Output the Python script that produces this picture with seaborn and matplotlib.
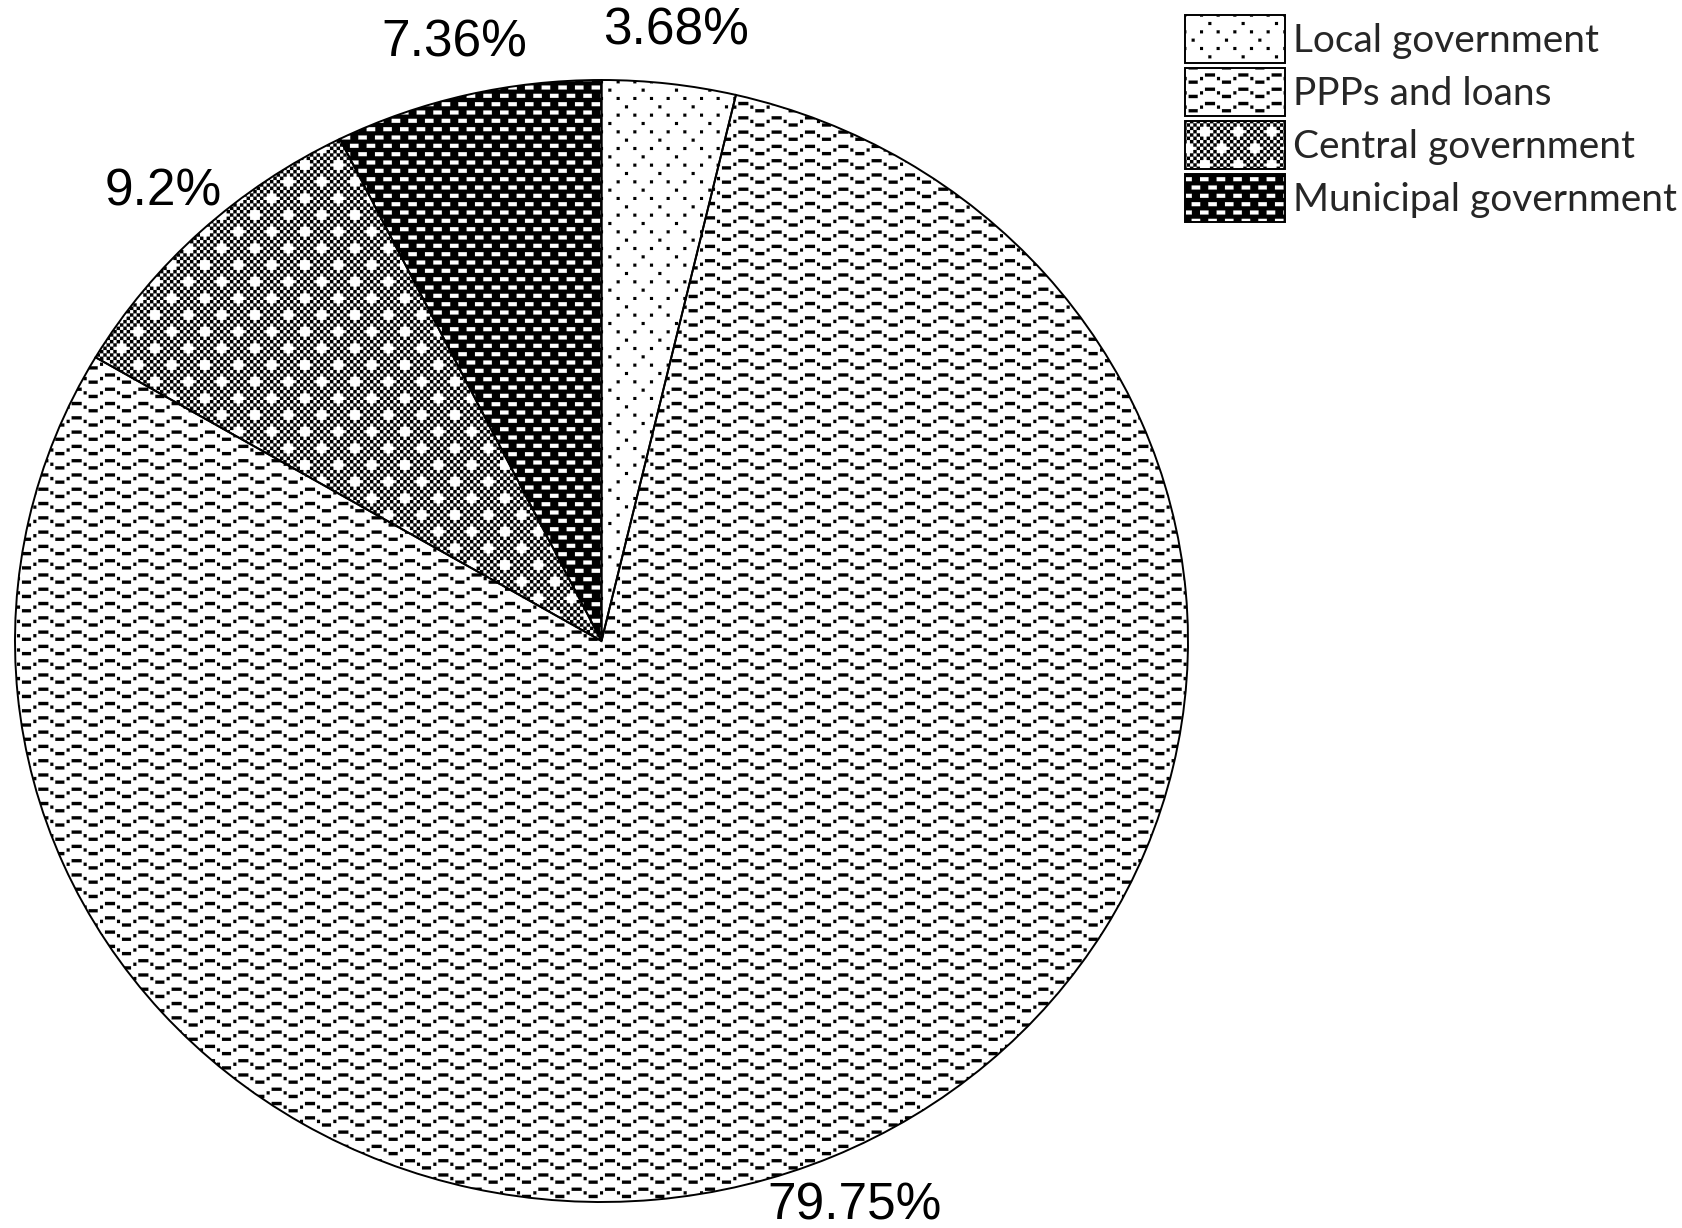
import numpy as np
import matplotlib
matplotlib.use("Agg")
import matplotlib.pyplot as plt
import matplotlib.hatch as mhatch
import matplotlib.patches as mpatches
from matplotlib.path import Path
import seaborn as sns

# ---- data -------------------------------------------------------------
categories = ["Local government", "PPPs and loans", "Central government", "Municipal government"]
shares = [3.68, 79.75, 9.2, 7.36]

# ---- fill styles (face colour, hatch colour, hatch symbol) -------------
face_colors = ["white", "white", "white", "black"]
hatch_colors = ["black", "black", "black", "white"]
hatch_symbols = [".", "o", "x", "*"]

# ---- custom tiling hatch patterns ---------------------------------------
TILE = 100.0  # hatch tile size in pixels (one inch at 100 dpi)


def _wrapped_rects(rects):
    """Closed rectangles in unit-tile coordinates, wrapped across tile edges."""
    polys = []
    for x, y, w, h in rects:
        x %= TILE
        y %= TILE
        for dx in (0.0, -TILE):
            for dy in (0.0, -TILE):
                if dx and x + w <= TILE:
                    continue
                if dy and y + h <= TILE:
                    continue
                x0, y0 = x + dx, y + dy
                polys.append(np.array([[x0, y0], [x0 + w, y0], [x0 + w, y0 + h], [x0, y0 + h]]) / TILE)
    return polys


class _TilePattern(mhatch.HatchPatternBase):
    symbol = ""
    polygons = []

    def __init__(self, hatch, density):
        self.active = self.symbol in (hatch or "")
        self.num_vertices = sum(len(p) + 1 for p in self.polygons) if self.active else 0

    def set_vertices_and_codes(self, vertices, codes):
        cur = 0
        for p in self.polygons:
            n = len(p)
            vertices[cur:cur + n] = p
            vertices[cur + n] = p[0]
            codes[cur] = Path.MOVETO
            codes[cur + 1:cur + n] = Path.LINETO
            codes[cur + n] = Path.CLOSEPOLY
            cur += n + 1


def _dots():
    rects, pitch, row = [], TILE / 6, TILE / 12
    for k in range(12):
        y = k * row
        if k % 2 == 0:
            xs = [j * pitch for j in range(6)]
        else:
            off = pitch / 2 + pitch * ((k // 2) % 2)
            xs = [off + 2 * pitch * j for j in range(3)]
        rects += [(x, y, 3.0, 3.0) for x in xs]
    return _wrapped_rects(rects)


def _waves():
    rects, period, row, t = [], TILE / 3, TILE / 7, 3.2
    pieces = [(0.0, 3.0, 0.0), (5.0, 10.0, 3.6), (17.0, 3.0, 0.0), (22.0, 9.0, -3.6)]
    for k in range(7):
        c = k * row + row / 2
        for j in range(3):
            for x0, w, dy in pieces:
                rects.append((j * period + x0, c + dy - t / 2, w, t))
    return _wrapped_rects(rects)


def _checker():
    n = 30
    s = TILE / n
    holes = set()
    for r in range(6):
        for k in range(3):
            ci, cj = 10 * k + 5 * (r % 2) + 1, 5 * r
            for di, dj in ((1, 0), (-1, 0), (0, 1), (0, -1)):
                holes.add(((ci + di) % n, (cj + dj) % n))
    rects = [(i * s, j * s, s, s) for i in range(n) for j in range(n)
             if (i + j) % 2 == 0 and (i, j) not in holes]
    return _wrapped_rects(rects)


def _bricks():
    rects, pitch, row = [], TILE / 6, TILE / 12
    for k in range(12):
        for j in range(6):
            rects.append((j * pitch + (pitch / 2) * (k % 2), k * row + (row - 4.0) / 2, 8.5, 4.0))
    return _wrapped_rects(rects)


def _make(symbol, polys):
    return type("Pattern_" + str(ord(symbol)), (_TilePattern,), {"symbol": symbol, "polygons": polys})


mhatch._hatch_types[:] = [_make(".", _dots()), _make("o", _waves()),
                          _make("x", _checker()), _make("*", _bricks())]

# ---- figure ----------------------------------------------------------------
sns.set_theme(style="white")
plt.rcParams["hatch.linewidth"] = 0.1

W, H = 1683, 1228
fig = plt.figure(figsize=(W / 100, H / 100), dpi=100)
fig.patch.set_facecolor("white")
ax = fig.add_axes([15 / W, 26 / H, 1173 / W, 1122 / H])

wedges, _, autotexts = ax.pie(
    shares, startangle=90, counterclock=False,
    autopct="%1.2f%%", pctdistance=1.095,
    wedgeprops=dict(linewidth=0),
    textprops=dict(fontsize=37, family="Liberation Sans", color="black"),
)
for w, fc, hc, hs in zip(wedges, face_colors, hatch_colors, hatch_symbols):
    w.set_facecolor(fc)
    w.set_edgecolor(hc)
    w.set_hatch(hs)
for t, v in zip(autotexts, shares):
    t.set_text(f"{v:g}%")

# black outlines on top of the hatched wedges
ax.pie(shares, startangle=90, counterclock=False,
       wedgeprops=dict(fill=False, edgecolor="black", linewidth=1.4))

ax.set_aspect("auto")
ax.set_xlim(-1, 1)
ax.set_ylim(-1, 1)
ax.axis("off")

handles = [
    (mpatches.Patch(facecolor=fc, edgecolor=hc, hatch=hs, linewidth=0),
     mpatches.Patch(fill=False, edgecolor="black", linewidth=1.4))
    for fc, hc, hs in zip(face_colors, hatch_colors, hatch_symbols)
]
fig.legend(handles, categories, loc="upper left",
           bbox_to_anchor=(1185 / W, 1 - 15 / H), bbox_transform=fig.transFigure,
           frameon=False, borderpad=0, borderaxespad=0,
           prop=dict(family="Lato", size=28),
           handlelength=2.57, handleheight=1.52, labelspacing=0.13, handletextpad=0.2)

fig.savefig("out.png", dpi=100, facecolor="white")
